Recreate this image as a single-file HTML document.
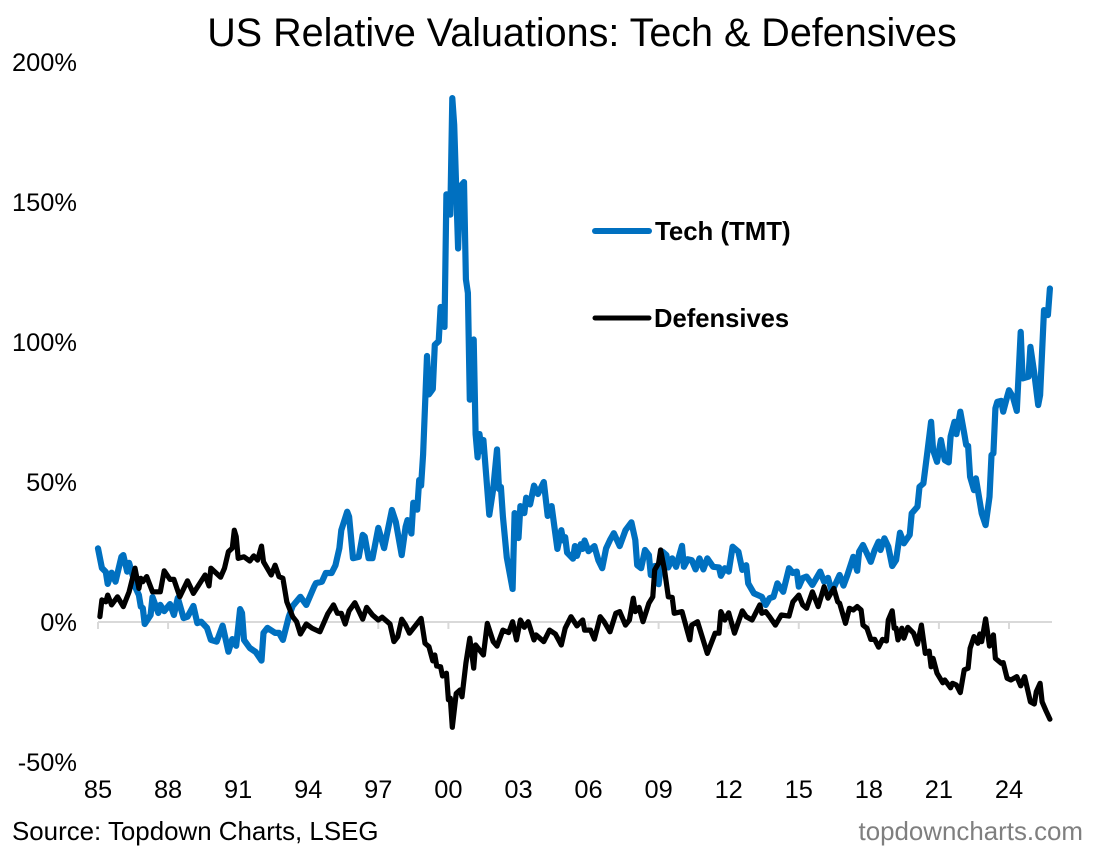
<!DOCTYPE html>
<html lang="en">
<head>
<meta charset="utf-8">
<title>US Relative Valuations: Tech &amp; Defensives</title>
<style>
html,body{margin:0;padding:0;background:#fff;}
body{width:1105px;height:850px;overflow:hidden;}
svg{display:block;font-family:"Liberation Sans",Arial,sans-serif;}
</style>
</head>
<body>
<svg id="chart" xmlns="http://www.w3.org/2000/svg" width="1105" height="850" viewBox="0 0 1105 850">
  <rect x="0" y="0" width="1105" height="850" fill="#ffffff"/>
  <text x="582" y="46" text-anchor="middle" font-size="39.5" fill="#000">US Relative Valuations: Tech &amp; Defensives</text>
  <g id="y-axis"></g>
  <g id="x-axis"></g>
  <g id="series"></g>
  <g>
    <line x1="595" y1="231" x2="649" y2="231" stroke="#0070c0" stroke-width="6" stroke-linecap="round"/>
    <text x="655" y="240" font-size="25.8" font-weight="bold" fill="#000">Tech (TMT)</text>
  </g>
  <g>
    <line x1="595" y1="318" x2="649" y2="318" stroke="#000" stroke-width="5" stroke-linecap="round"/>
    <text x="654" y="327" font-size="25.6" font-weight="bold" fill="#000">Defensives</text>
  </g>
  <text x="12" y="840" font-size="25.9" fill="#000">Source: Topdown Charts, LSEG</text>
  <text x="1083" y="840" text-anchor="end" font-size="25.9" fill="#7f7f7f">topdowncharts.com</text>
</svg>
<script>
// Months since Jan 1985 and relative valuation (%) for each series.
var techMonths = [0,2,4,5,7,9,12,13,15,16,18,19,21,22,23,24,27,28,31,32,34,37,39,41,44,46,49,51,53,56,58,61,64,67,69,71,73,74,75,78,81,84,85,87,91,93,95,98,100,104,107,111,112,115,117,120,122,124,125,128,129,131,134,136,137,139,141,144,147,151,153,156,158,159,161,162,164,165,166,167,169,170,172,173,175,176,178,179,181,182,183,185,186,188,189,190,191,193,194,195,196,197,198,201,203,205,206,207,208,210,213,214,216,217,219,220,222,224,226,229,231,233,236,238,239,240,241,244,245,246,248,249,250,252,255,257,259,261,263,265,268,271,274,276,277,279,281,283,284,286,288,290,292,293,295,297,300,301,303,305,307,309,311,313,316,319,320,322,324,326,329,331,333,334,337,341,343,345,347,349,352,355,357,359,360,362,364,367,371,373,375,377,381,383,385,388,390,391,393,397,399,401,402,404,406,408,410,412,414,417,418,421,422,424,426,428,429,431,433,435,437,438,440,441,443,445,446,447,448,450,451,454,456,458,459,460,461,462,464,465,467,468,470,472,474,475,478,479,481,483,484,486,488,489];
var techValues = [26.3,19.3,17.9,13.6,17.6,14.4,23.3,23.9,18.0,21.1,16.2,12.6,9.6,5.5,5.0,-0.7,2.5,8.9,3.2,6.1,3.9,6.4,2.5,8.6,1.4,1.9,5.7,-0.4,0.1,-2.1,-6.4,-7.0,-1.3,-10.6,-6.1,-8.5,4.6,3.2,-6.4,-9.3,-10.7,-13.8,-3.9,-2.1,-3.9,-3.9,-6.4,1.9,5.7,9.0,6.1,12.6,13.9,14.4,17.5,17.5,20.3,26.4,32.8,39.4,37.6,22.8,23.3,31.1,30.5,22.8,22.8,33.6,26.4,40.0,35.8,23.9,34.0,36.4,31.6,42.6,40.1,50.7,48.7,59.8,95.0,81.3,83.2,99.0,100.3,112.5,105.4,152.7,145.5,187.1,177.5,133.4,155.5,157.1,122.4,117.5,79.4,100.9,67.1,58.8,67.1,61.0,65.0,38.3,47.5,61.6,47.5,48.2,37.7,23.0,11.8,38.9,30.0,41.4,38.9,44.4,42.0,48.7,45.7,50.0,37.9,41.4,26.1,32.8,29.1,30.3,24.8,22.6,27.1,23.6,27.8,26.1,29.1,25.3,27.1,22.1,19.2,26.3,29.3,31.7,27.1,32.8,35.6,29.3,20.3,19.2,25.7,23.9,16.8,20.0,13.5,25.1,23.9,19.5,22.7,19.7,27.2,19.7,22.4,22.1,18.8,22.7,18.8,22.7,19.7,19.5,16.5,19.2,18.0,26.9,25.1,18.6,20.3,13.8,10.2,9.0,6.1,8.5,9.0,13.8,10.8,19.2,17.5,18.0,12.6,15.7,16.2,13.2,18.0,14.4,15.8,10.8,16.8,13.0,16.8,23.3,18.3,25.1,27.5,21.5,25.7,28.7,25.7,29.9,26.9,20.0,22.1,31.9,28.1,31.1,38.8,41.2,48.3,49.5,60.2,71.5,61.4,57.2,65.0,57.8,57.0,66.2,71.5,67.1,75.1,67.4,63.2,62.9,51.9,47.1,51.3,38.8,34.6,44.7,59.6,60.2,76.3,78.6,79.0,75.1,80.4,82.8,80.4,75.4,103.6,87.0,87.6,98.3,88.8,77.5,81.0,111.4,109.6,119.1];
var defMonths = [1,2,4,5,7,10,13,16,19,21,22,23,25,28,32,34,37,39,42,46,49,55,57,58,63,65,67,69,70,71,72,75,78,80,82,84,85,89,91,93,95,97,100,102,104,107,110,114,118,121,123,125,127,129,132,136,138,141,144,146,150,152,154,156,158,160,166,168,170,172,173,174,176,177,179,180,181,182,184,186,187,189,191,193,194,198,200,203,205,208,211,213,215,217,219,221,224,225,229,232,235,238,240,243,246,249,250,253,255,258,260,263,266,268,271,273,275,276,278,280,283,285,286,288,289,291,293,295,296,300,304,305,308,313,317,319,320,322,324,327,331,333,336,340,341,343,345,348,351,355,357,360,362,364,367,370,373,375,378,380,381,384,386,388,390,392,393,395,397,399,401,403,405,406,408,409,410,411,413,414,416,419,421,423,425,427,428,429,431,434,435,438,439,441,443,445,447,448,450,452,453,454,456,458,460,461,464,465,467,469,472,474,476,479,481,482,484,485,487,489];
var defValues = [1.9,7.9,7.2,9.6,6.1,9.0,5.5,10.8,19.2,12.0,15.6,14.4,16.2,10.8,10.8,18.3,15.2,15.2,9.0,14.7,10.2,16.8,12.9,19.2,16.0,19.2,25.1,26.4,32.8,30.5,22.7,23.3,21.8,23.6,22.1,27.1,21.5,16.8,20.3,16.2,15.6,7.2,1.9,0.1,-4.3,-0.7,-2.2,-3.5,2.9,6.1,3.1,3.1,-0.7,4.0,6.9,1.0,5.2,2.5,0.7,1.7,-0.7,-7.0,-5.2,1.0,-1.1,-4.0,1.3,-7.6,-8.8,-13.9,-11.8,-15.7,-16.0,-19.3,-18.3,-27.8,-27.2,-37.6,-25.5,-24.3,-26.7,-14.7,-5.8,-16.5,-8.2,-11.8,-0.5,-7.0,-8.6,-2.9,-3.8,0.1,-6.4,0.7,-1.9,0.1,-6.4,-4.6,-7.0,-2.9,-4.3,-8.2,-2.2,1.9,-1.4,0.7,-2.9,-2.9,-6.1,1.9,0.1,-3.5,3.1,3.7,-1.1,0.7,8.5,3.7,5.2,0.1,6.7,9.0,18.6,21.0,25.7,18.6,9.0,8.8,3.1,3.7,-6.4,-1.1,0.1,-11.2,-4.0,-4.0,3.7,0.7,3.3,-4.0,4.0,1.9,0.7,6.1,3.1,3.7,1.9,-1.1,2.5,2.1,7.2,9.6,6.1,4.9,10.8,5.5,12.6,8.5,12.0,7.2,6.7,-0.5,4.9,4.3,5.5,4.3,-1.1,-2.2,-6.2,-6.2,-9.0,-6.2,-6.8,0.7,4.0,-2.2,-2.2,-6.4,-2.2,-5.8,-1.9,-4.0,-7.9,-1.1,-11.2,-10.4,-16.0,-13.0,-18.3,-21.7,-20.7,-23.5,-21.9,-22.5,-25.2,-17.1,-16.5,-9.4,-5.2,-7.6,-4.3,-7.0,1.1,-8.6,-4.6,-13.0,-14.7,-14.5,-20.1,-20.7,-19.5,-22.8,-19.5,-28.5,-29.3,-24.9,-21.9,-28.5,-31.7,-34.7];
var xTickLabels = ["85","88","91","94","97","00","03","06","09","12","15","18","21","24"];
var xTickMonths = [0,36,72,108,144,180,216,252,288,324,360,396,432,468];
var yTickValues = [200,150,100,50,0,-50];

var SVGNS = 'http://www.w3.org/2000/svg';
function xScale(m){ return 98 + m * (911 / 468); }
function yScale(v){ return 622 - v * 2.8; }
function make(tag, attrs, parent){
  var el = document.createElementNS(SVGNS, tag);
  for (var k in attrs) { el.setAttribute(k, attrs[k]); }
  parent.appendChild(el);
  return el;
}
var yAxis = document.getElementById('y-axis');
yTickValues.forEach(function(v){
  var t = make('text', {x: 77, y: yScale(v) + 9, 'text-anchor': 'end', 'font-size': 25.4, fill: '#000'}, yAxis);
  
  
  t.textContent = v + '%';
});
var xAxis = document.getElementById('x-axis');
var axisLine = make('line', {x1: xScale(0), x2: 1052, y1: yScale(0), y2: yScale(0), stroke: '#d9d9d9', 'stroke-width': 2}, xAxis);


xTickMonths.forEach(function(m, i){
  var tick = make('line', {x1: xScale(m), x2: xScale(m), y1: yScale(0), y2: yScale(0) + 7, stroke: '#d9d9d9', 'stroke-width': 2}, xAxis);
  
  
  var t = make('text', {x: xScale(m), y: 798, 'text-anchor': 'middle', 'font-size': 25.4, fill: '#000'}, xAxis);
  
  
  t.textContent = xTickLabels[i];
});
function linePoints(months, values){
  return months.map(function(m, i){ return xScale(m).toFixed(1) + ',' + yScale(values[i]).toFixed(1); }).join(' ');
}
var seriesGroup = document.getElementById('series');
var techLine = make('polyline', {points: linePoints(techMonths, techValues), fill: 'none', stroke: '#0070c0', 'stroke-width': 6.2, 'stroke-linejoin': 'round', 'stroke-linecap': 'round'}, seriesGroup);


var defLine = make('polyline', {points: linePoints(defMonths, defValues), fill: 'none', stroke: '#000000', 'stroke-width': 5.2, 'stroke-linejoin': 'round', 'stroke-linecap': 'round'}, seriesGroup);


</script>
</body>
</html>
